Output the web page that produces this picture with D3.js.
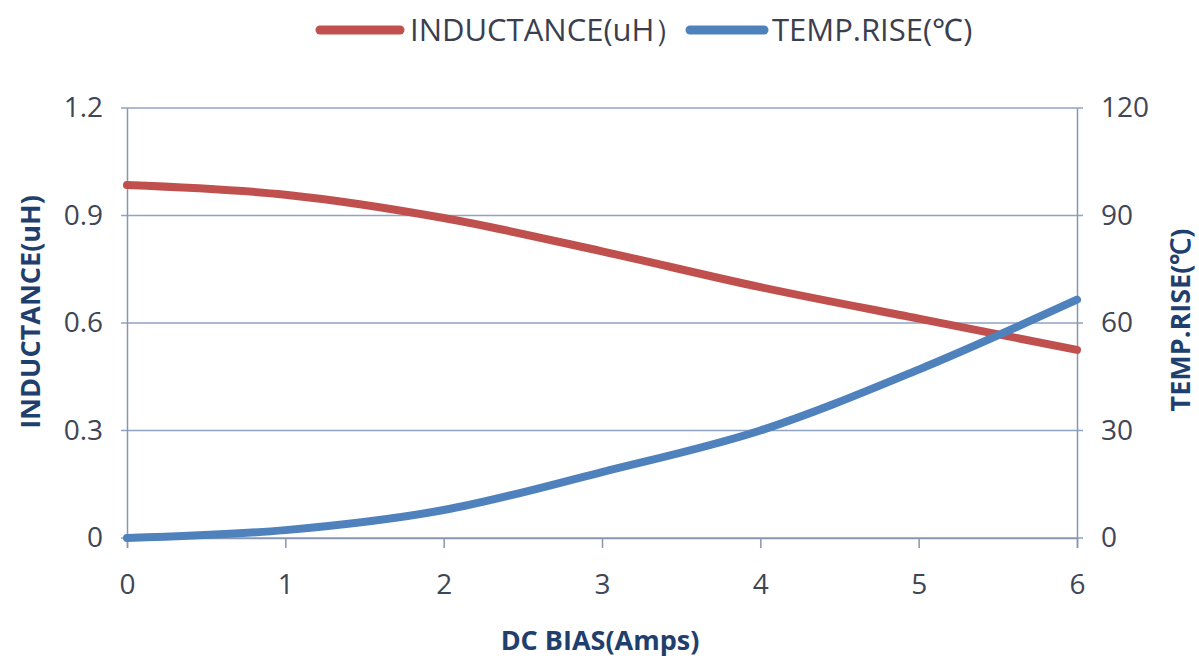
<!DOCTYPE html>
<html>
<head>
<meta charset="utf-8">
<script src="https://cdn.jsdelivr.net/npm/d3@7"></script>
<style>
  html, body { margin: 0; padding: 0; background: #fff; }
  svg text { font-family: "Liberation Sans Narrow", "Open Sans", sans-serif; }
</style>
</head>
<body>
<svg id="chart" width="1199" height="659"></svg>
<script>
// DC bias (A)
const bias = [0, 1, 2, 3, 4, 5, 6];
// inductance (uH), left axis
const inductance = [0.985, 0.958, 0.893, 0.80, 0.70, 0.612, 0.525];
// temperature rise (°C), right axis
const tempRise = [0, 2.2, 7.8, 18.4, 30, 47, 66.5];

const xTicks = [0, 1, 2, 3, 4, 5, 6];
const leftTicks = [0, 0.3, 0.6, 0.9, 1.2];
const rightTicks = [0, 30, 60, 90, 120];

const svg = d3.select('#chart');
const plotLeft = 127, plotRight = 1077, plotTop = 108, plotBottom = 538;

const x = d3.scaleLinear().domain([0, 6]).range([plotLeft, plotRight]);
const yL = d3.scaleLinear().domain([0, 1.2]).range([plotBottom, plotTop]);
const yR = d3.scaleLinear().domain([0, 120]).range([plotBottom, plotTop]);

const gridColor = '#8fa3c4';
const axisColor = '#8896b0';
const tickText = '#3f4656';
const titleColor = '#1f3f6e';

// gridlines
svg.append('g')
    .selectAll('line')
    .data(leftTicks)
    .enter().append('line')
    .attr('x1', plotLeft - 6).attr('x2', plotRight + 6)
    .attr('y1', d => yL(d)).attr('y2', d => yL(d))
    .attr('stroke', gridColor)
    .attr('stroke-width', 1.3);

// axes
const xAxis = d3.axisBottom(x).tickValues(xTicks).tickSize(10).tickFormat(d3.format('d'));
const gx = svg.append('g').attr('transform', `translate(0,${plotBottom})`).call(xAxis);
gx.select('.domain').attr('stroke', axisColor).attr('stroke-width', 1.5);
gx.selectAll('.tick line').attr('stroke', axisColor).attr('stroke-width', 1.5);
gx.selectAll('.tick text')
    .attr('y', 36)
    .attr('fill', tickText)
    .style('font-size', '28px');

const gl = svg.append('g').attr('transform', `translate(${plotLeft},0)`)
    .call(d3.axisLeft(yL).tickValues(leftTicks).tickSize(0).tickPadding(24)
        .tickFormat(d => d === 0 ? '0' : d3.format('.1f')(d)));
gl.select('.domain').attr('stroke', axisColor).attr('stroke-width', 1.5);
gl.selectAll('.tick text').attr('fill', tickText).style('font-size', '28px');

const gr = svg.append('g').attr('transform', `translate(${plotRight},0)`)
    .call(d3.axisRight(yR).tickValues(rightTicks).tickSize(0).tickPadding(24));
gr.select('.domain').attr('stroke', axisColor).attr('stroke-width', 1.5);
gr.selectAll('.tick text').attr('fill', tickText).style('font-size', '28px');

// series
const lineL = d3.line().x((d, i) => x(bias[i])).y(d => yL(d)).curve(d3.curveCatmullRom);
const lineR = d3.line().x((d, i) => x(bias[i])).y(d => yR(d)).curve(d3.curveCatmullRom);

svg.append('path').datum(inductance)
    .attr('d', lineL)
    .attr('fill', 'none')
    .attr('stroke', '#c0504d')
    .attr('stroke-width', 8)
    .attr('stroke-linecap', 'round');

svg.append('path').datum(tempRise)
    .attr('d', lineR)
    .attr('fill', 'none')
    .attr('stroke', '#4f81bd')
    .attr('stroke-width', 8)
    .attr('stroke-linecap', 'round');

// axis titles
svg.append('text')
    .attr('transform', `translate(40,312) rotate(-90)`)
    .attr('text-anchor', 'middle')
    .attr('fill', titleColor)
    .style('font-size', '27px').style('font-weight', 'bold')
    .text('INDUCTANCE(uH)');

svg.append('text')
    .attr('transform', `translate(1190,320) rotate(-90)`)
    .attr('text-anchor', 'middle')
    .attr('fill', titleColor)
    .style('font-size', '27px').style('font-weight', 'bold')
    .text('TEMP.RISE(℃)');

svg.append('text')
    .attr('x', 600).attr('y', 650)
    .attr('text-anchor', 'middle')
    .attr('fill', titleColor)
    .style('font-size', '27px').style('font-weight', 'bold')
    .text('DC BIAS(Amps)');

// legend
const legend = [
    { name: 'INDUCTANCE(uH）', color: '#c0504d', x0: 320, x1: 400, tx: 410 },
    { name: 'TEMP.RISE(℃)', color: '#4f81bd', x0: 690, x1: 764, tx: 772 }
];
const lg = svg.append('g');
legend.forEach(d => {
    lg.append('line')
        .attr('x1', d.x0).attr('x2', d.x1)
        .attr('y1', 30).attr('y2', 30)
        .attr('stroke', d.color)
        .attr('stroke-width', 9)
        .attr('stroke-linecap', 'round');
    lg.append('text')
        .attr('x', d.tx).attr('y', 41)
        .attr('fill', '#3a3f50')
        .style('font-size', '31px')
        .text(d.name);
});
</script>
</body>
</html>
